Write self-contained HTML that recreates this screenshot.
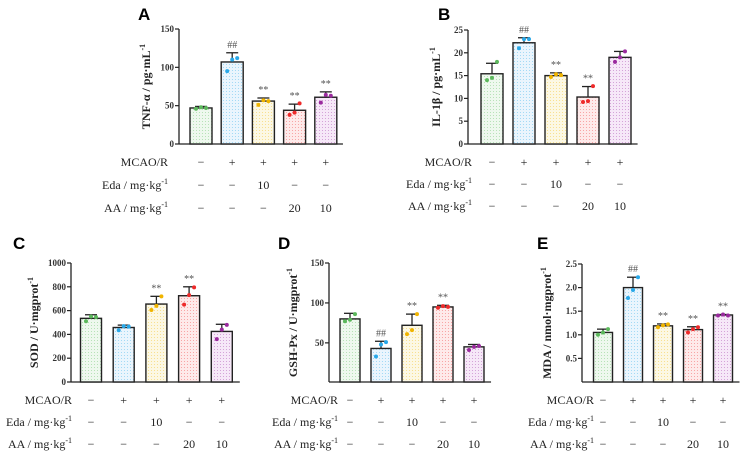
<!DOCTYPE html>
<html><head><meta charset="utf-8"><style>
body{margin:0;background:#fff;}
svg text{font-family:"Liberation Serif",serif;}
.let{font-family:"Liberation Sans",sans-serif;font-weight:bold;font-size:17px;}
.tk{font-size:9px;font-weight:bold;fill:#333;}
.yl{font-size:12px;font-weight:bold;fill:#222;}
.rl{font-size:12px;fill:#222;}
.sig{font-size:10px;fill:#555;}
</style></head><body>
<svg id="fig" width="752" height="465" viewBox="0 0 752 465" xmlns="http://www.w3.org/2000/svg">
<defs></defs>
</svg>
<script>
// data
const groups = ["sham","model","eda","aa20","aa10"];
const mcaoRow = ["−","+","+","+","+"];
const edaRow = ["−","−","10","−","−"];
const aaRow = ["−","−","−","20","10"];
const tnfValues = [47,107,56,44,61];
const tnfErr = [2,12,4,8,7];
const tnfPts = [[46,48,47],[95,110,112],[51,57,56],[38,41,53],[54,64,63]];
const tnfSig = ["","##","**","**","**"];
const tnfTicks = [0,50,100,150];
const il1Values = [15.4,22.2,15,10.3,19];
const il1Err = [2.3,1.1,0.6,2.3,1.3];
const il1Pts = [[14,14.5,18],[21,23,23],[14.7,15.3,15.1],[9.2,9.4,12.7],[18,19,20.3]];
const il1Sig = ["","##","**","**",""];
const il1Ticks = [0,5,10,15,20,25];
const sodValues = [535,458,655,725,425];
const sodErr = [30,20,65,75,60];
const sodPts = [[510,550,545],[435,470,465],[605,640,720],[650,730,795],[360,440,480]];
const sodSig = ["","","**","**",""];
const sodTicks = [0,200,400,600,800,1000];
const gshValues = [80,43,72,95,45];
const gshErr = [7,9,14,2,3];
const gshPts = [[77,79,86],[33,48,51],[61,66,86],[94,96,95],[41,45,46]];
const gshSig = ["","##","**","**",""];
const gshTicks = [50,100,150];
const mdaValues = [1.05,2.0,1.19,1.11,1.42];
const mdaErr = [0.07,0.22,0.04,0.06,0.01];
const mdaPts = [[1.0,1.05,1.12],[1.78,1.95,2.22],[1.16,1.2,1.22],[1.05,1.12,1.16],[1.41,1.43,1.41]];
const mdaSig = ["","##","**","**","**"];
const mdaTicks = [0.5,1.0,1.5,2.0,2.5];

const colors=["#5cb85c","#29a8e8","#f0b400","#ee2a2a","#9a2a9e"];
const light=["#eef8ee","#eaf5fd","#fcf8e4","#feeaea","#f6e8f8"];
const NS="http://www.w3.org/2000/svg";
const svg=document.getElementById("fig");
const defs=svg.querySelector("defs");
colors.forEach((c,i)=>{
  const p=document.createElementNS(NS,"pattern");
  p.setAttribute("id","pat"+i);p.setAttribute("width","3");p.setAttribute("height","3");p.setAttribute("patternUnits","userSpaceOnUse");
  p.innerHTML=`<rect width="3" height="3" fill="${light[i]}"/><circle cx="1.5" cy="1.5" r="0.55" fill="${c}" opacity="0.45"/>`;
  defs.appendChild(p);
});
function el(tag,attrs,parent){const e=document.createElementNS(NS,tag);for(const k in attrs)e.setAttribute(k,attrs[k]);(parent||svg).appendChild(e);return e;}

function panel(o){
  const g=el("g",{});
  
  
  const y=v=>o.y0-(v-o.vmin)/(o.vmax-o.vmin)*(o.y0-o.y1);
  const x=i=>o.cx0+i*o.step;
  const letter=el("text",{x:o.lx,y:o.ly,class:"let"},g);letter.textContent=o.letter;
  
  
  const ax=el("line",{x1:o.ax,y1:o.y1,x2:o.ax,y2:o.y0,stroke:"#222","stroke-width":1.3},g);
  
  
  const xa=el("line",{x1:o.ax,y1:o.y0,x2:x(4)+o.step*0.55,y2:o.y0,stroke:"#222","stroke-width":1.3},g);
  
  
  o.ticks.forEach(t=>{
    el("line",{x1:o.ax-4,y1:y(t),x2:o.ax,y2:y(t),stroke:"#222","stroke-width":1.2},g);
    const tt=el("text",{x:o.ax-5,y:y(t)+3,class:"tk","text-anchor":"end"},g);tt.textContent=o.tickFmt?o.tickFmt(t):t;
    
    
  });
  const yl=el("text",{x:0,y:0,class:"yl","text-anchor":"middle",transform:`translate(${o.ylx},${(o.y0+o.y1)/2}) rotate(-90)`},g);
  yl.innerHTML=o.ylabel;
  
  
  o.values.forEach((v,i)=>{
    const bx=x(i)-o.bw/2;
    const top=y(v);
    const e=y(v+o.err[i]);
    const el1=el("line",{x1:x(i),y1:top,x2:x(i),y2:e,stroke:"#222","stroke-width":1.3},g);
    
    
    el("line",{x1:x(i)-6,y1:e,x2:x(i)+6,y2:e,stroke:"#222","stroke-width":1.3},g);
    const r=el("rect",{x:bx,y:top,width:o.bw,height:o.y0-top,fill:`url(#pat${i})`,stroke:"#222","stroke-width":1.4},g);
    
    
    o.pts[i].forEach((p,j)=>{
      const c=el("circle",{cx:x(i)+(j-1)*5,cy:y(p),r:2,fill:colors[i]},g);
      
      
    });
    if(o.sig[i]){
      const s=el("text",{x:x(i),y:e-5,class:"sig","text-anchor":"middle"},g);s.textContent=o.sig[i];
      
      
    }
  });
  const rows=[["MCAO/R",mcaoRow],["Eda / mg·kg<tspan font-size='8' dy='-5'>-1</tspan>",edaRow],["AA / mg·kg<tspan font-size='8' dy='-5'>-1</tspan>",aaRow]];
  rows.forEach((r,k)=>{
    const ry=o.rowY[k];
    const t=el("text",{x:o.rlx,y:ry,class:"rl","text-anchor":"end"},g);t.innerHTML=r[0];
    
    
    r[1].forEach((s,i)=>{
      const c=el("text",{x:x(i),y:ry,class:"rl","text-anchor":"middle"},g);c.textContent=s;
      
      
    });
  });
}
panel({name:"panel-a-tnf",letter:"A",lx:138,ly:20,ax:179,y0:144,y1:29,vmin:0,vmax:150,cx0:201,step:31.2,bw:22,
  ticks:tnfTicks,values:tnfValues,err:tnfErr,pts:tnfPts,sig:tnfSig,ylx:150,
  ylabel:"TNF-α / pg·mL<tspan font-size='8' dy='-5'>-1</tspan>",rlx:168,rowY:[166,189,212]});
panel({name:"panel-b-il1b",letter:"B",lx:438,ly:20,ax:468,y0:144,y1:30,vmin:0,vmax:25,cx0:492,step:32,bw:22,
  ticks:il1Ticks,values:il1Values,err:il1Err,pts:il1Pts,sig:il1Sig,ylx:440,
  ylabel:"IL-1β / pg·mL<tspan font-size='8' dy='-5'>-1</tspan>",rlx:472,rowY:[166,188,210]});
panel({name:"panel-c-sod",letter:"C",lx:13,ly:249,ax:71,y0:382,y1:263,vmin:0,vmax:1000,cx0:91,step:32.7,bw:21,
  ticks:sodTicks,values:sodValues,err:sodErr,pts:sodPts,sig:sodSig,ylx:38,tickFmt:t=>t,
  ylabel:"SOD / U·mgprot<tspan font-size='8' dy='-5'>-1</tspan>",rlx:72,rowY:[404,426,448]});
panel({name:"panel-d-gshpx",letter:"D",lx:278,ly:249,ax:329,y0:382,y1:263,vmin:1,vmax:150,cx0:350,step:31,bw:20,
  ticks:gshTicks,values:gshValues,err:gshErr,pts:gshPts,sig:gshSig,ylx:297,
  ylabel:"GSH-Px / U·mgprot<tspan font-size='8' dy='-5'>-1</tspan>",rlx:338,rowY:[404,426,448]});
panel({name:"panel-e-mda",letter:"E",lx:537,ly:249,ax:582,y0:382,y1:264,vmin:0,vmax:2.5,cx0:603,step:30,bw:19,
  ticks:mdaTicks,values:mdaValues,err:mdaErr,pts:mdaPts,sig:mdaSig,ylx:551,tickFmt:t=>t.toFixed(1),
  ylabel:"MDA / nmol·mgprot<tspan font-size='8' dy='-5'>-1</tspan>",rlx:594,rowY:[404,426,448]});
</script>
</body></html>
